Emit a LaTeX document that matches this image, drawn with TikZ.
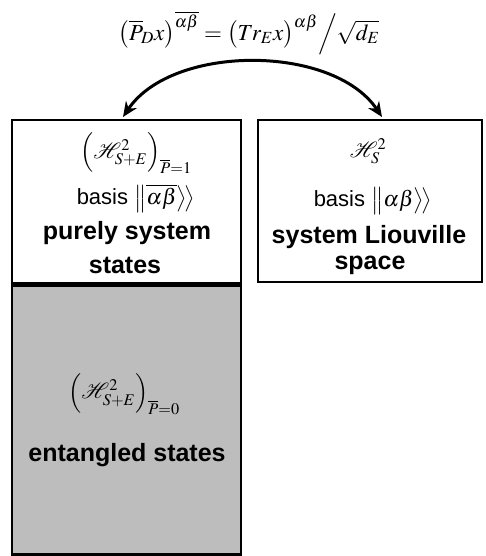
\documentclass[tikz,border=0pt]{standalone}
\usepackage{amsmath}
\usepackage{mathptmx}
\usepackage[no-math]{fontspec}
\setsansfont{Liberation Sans}
\usepackage{tikz}
\usetikzlibrary{positioning,arrows.meta}

\begin{document}
\begin{tikzpicture}[
  x=1pt, y=-1pt,
  box/.style={draw, line width=2.6pt, inner sep=0pt},
  graybox/.style={box, fill=black!26},
  bold/.style={font=\sffamily\bfseries\fontsize{25}{29}\selectfont, inner sep=0pt},
  plain/.style={font=\sffamily\fontsize{22}{26}\selectfont, inner sep=0pt},
  mth/.style={font=\fontsize{22}{26}\selectfont, inner sep=0pt},
  arr/.style={{Stealth[length=15pt,width=13pt]}-{Stealth[length=15pt,width=13pt]}, line width=3pt}
]
\useasboundingbox (0,0) rectangle (485,556);
% equation on top
\node[font=\fontsize{23}{28}\selectfont, inner sep=0pt] (eq) at (249,33)
  {$\bigl(\overline{P}_{\!D}x\bigr)^{\overline{\alpha\beta}} = \bigl(Tr_Ex\bigr)^{\alpha\beta}\Big/\sqrt{d_E}$};
% boxes
\node[box, minimum width=229pt, minimum height=163pt] (sys) at (126.5,201.5) {};
\node[graybox, minimum width=229pt, minimum height=269pt, anchor=north] (ent) at (sys.south) {};
\node[box, minimum width=224pt, minimum height=162pt] (liou) at (370,201) {};
\coordinate (la) at (123,117);
\coordinate (ra) at (382,117);
\draw[arr] (la) .. controls (172,44) and (333,44) .. (ra);
% left box text
\node[mth] (sysH) at (136,153) {$\Bigl(\mathcal{H}^{2}_{S+E}\Bigr)_{\overline{P}=1}$};
\node[plain] (sysb) at (136,198) {basis $\bigl\|\overline{\alpha\beta}\bigr\rangle\!\bigr\rangle$};
\node[bold] (sys1) at (127,233) {purely system};
\node[bold] (sys2) at (125,265) {states};
% gray box text
\node[mth] (entH) at (124,394) {$\Bigl(\mathcal{H}^{2}_{S+E}\Bigr)_{\overline{P}=0}$};
\node[bold] (ent1) at (127,455) {entangled states};
% right box text
\node[mth] (liouH) at (368,151) {$\mathcal{H}^{2}_{S}$};
\node[plain] (lioub) at (373,201) {basis $\bigl\|\alpha\beta\bigr\rangle\!\bigr\rangle$};
\node[bold] (liou1) at (369,237) {system Liouville};
\node[bold] (liou2) at (370,265) {space};
\end{tikzpicture}
\end{document}
